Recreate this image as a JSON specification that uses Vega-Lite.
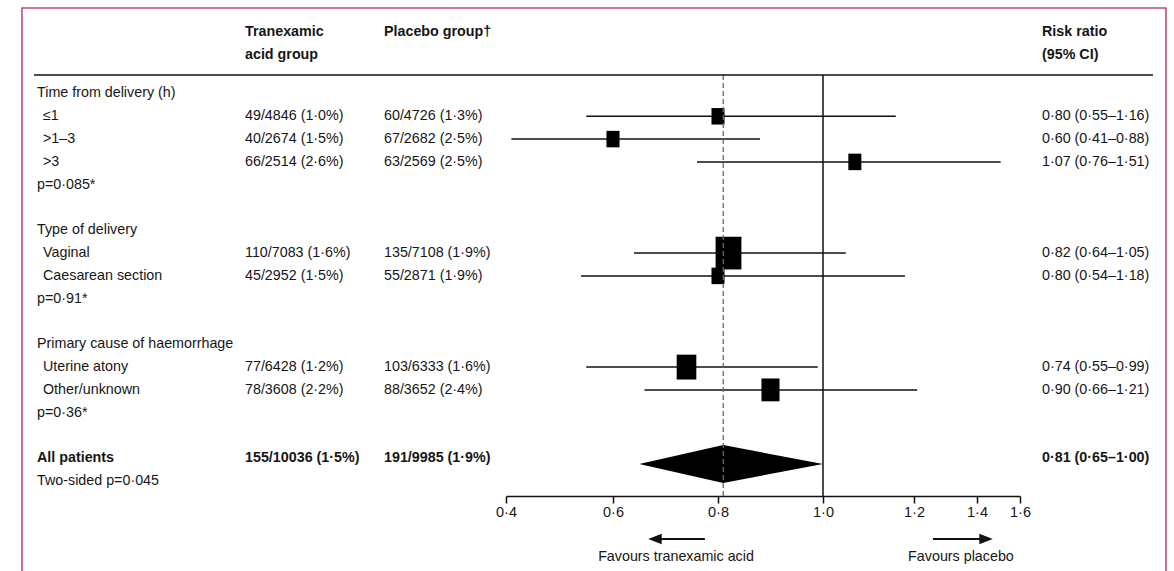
{
  "$schema": "https://vega.github.io/schema/vega-lite/v6.json",
  "width": 1144,
  "height": 566,
  "autosize": {"type": "none"},
  "padding": {"left": 22, "top": 8, "right": 8, "bottom": -3},
  "background": "white",
  "config": {
    "view": {"stroke": "#c9486f", "strokeWidth": 1.6},
    "text": {"font": "Liberation Sans", "fontSize": 14.3, "color": "#161616"}
  },
  "datasets": {
    "forest": [
      {"row": 1, "subgroup": "≤1", "est": 0.80, "lo": 0.55, "hi": 1.16, "events": 109},
      {"row": 2, "subgroup": ">1–3", "est": 0.60, "lo": 0.41, "hi": 0.88, "events": 107},
      {"row": 3, "subgroup": ">3", "est": 1.07, "lo": 0.76, "hi": 1.51, "events": 129},
      {"row": 7, "subgroup": "Vaginal", "est": 0.82, "lo": 0.64, "hi": 1.05, "events": 245},
      {"row": 8, "subgroup": "Caesarean section", "est": 0.80, "lo": 0.54, "hi": 1.18, "events": 100},
      {"row": 12, "subgroup": "Uterine atony", "est": 0.74, "lo": 0.55, "hi": 0.99, "events": 180},
      {"row": 13, "subgroup": "Other/unknown", "est": 0.90, "lo": 0.66, "hi": 1.21, "events": 166}
    ],
    "diamond": [
      {"ratio": 0.65, "top": 16.25, "bottom": 16.25},
      {"ratio": 0.81, "top": 15.42, "bottom": 17.08},
      {"ratio": 1.00, "top": 16.25, "bottom": 16.25}
    ],
    "refs": [
      {"line": "no effect", "ratio": 1.0},
      {"line": "overall", "ratio": 0.81}
    ],
    "arrows": [
      {"direction": "left", "label": "Favours tranexamic acid", "tail": 0.775, "head": 0.68, "mid": 0.72},
      {"direction": "right", "label": "Favours placebo", "tail": 1.26, "head": 1.442, "mid": 1.349}
    ],
    "cells": [
      {"row": -2.70, "col": 3, "kind": "header", "text": "Tranexamic"},
      {"row": -1.69, "col": 3, "kind": "header", "text": "acid group"},
      {"row": -2.70, "col": 4, "kind": "header", "text": "Placebo group†"},
      {"row": -2.70, "col": 5, "kind": "header", "text": "Risk ratio"},
      {"row": -1.69, "col": 5, "kind": "header", "text": "(95% CI)"},
      {"row": 0, "col": 1, "kind": "group", "text": "Time from delivery (h)"},
      {"row": 1, "col": 2, "kind": "item", "text": "≤1"},
      {"row": 1, "col": 3, "kind": "value", "text": "49/4846 (1·0%)"},
      {"row": 1, "col": 4, "kind": "value", "text": "60/4726 (1·3%)"},
      {"row": 1, "col": 5, "kind": "value", "text": "0·80 (0·55–1·16)"},
      {"row": 2, "col": 2, "kind": "item", "text": ">1–3"},
      {"row": 2, "col": 3, "kind": "value", "text": "40/2674 (1·5%)"},
      {"row": 2, "col": 4, "kind": "value", "text": "67/2682 (2·5%)"},
      {"row": 2, "col": 5, "kind": "value", "text": "0·60 (0·41–0·88)"},
      {"row": 3, "col": 2, "kind": "item", "text": ">3"},
      {"row": 3, "col": 3, "kind": "value", "text": "66/2514 (2·6%)"},
      {"row": 3, "col": 4, "kind": "value", "text": "63/2569 (2·5%)"},
      {"row": 3, "col": 5, "kind": "value", "text": "1·07 (0·76–1·51)"},
      {"row": 4, "col": 1, "kind": "pvalue", "text": "p=0·085*"},
      {"row": 6, "col": 1, "kind": "group", "text": "Type of delivery"},
      {"row": 7, "col": 2, "kind": "item", "text": "Vaginal"},
      {"row": 7, "col": 3, "kind": "value", "text": "110/7083 (1·6%)"},
      {"row": 7, "col": 4, "kind": "value", "text": "135/7108 (1·9%)"},
      {"row": 7, "col": 5, "kind": "value", "text": "0·82 (0·64–1·05)"},
      {"row": 8, "col": 2, "kind": "item", "text": "Caesarean section"},
      {"row": 8, "col": 3, "kind": "value", "text": "45/2952 (1·5%)"},
      {"row": 8, "col": 4, "kind": "value", "text": "55/2871 (1·9%)"},
      {"row": 8, "col": 5, "kind": "value", "text": "0·80 (0·54–1·18)"},
      {"row": 9, "col": 1, "kind": "pvalue", "text": "p=0·91*"},
      {"row": 11, "col": 1, "kind": "group", "text": "Primary cause of haemorrhage"},
      {"row": 12, "col": 2, "kind": "item", "text": "Uterine atony"},
      {"row": 12, "col": 3, "kind": "value", "text": "77/6428 (1·2%)"},
      {"row": 12, "col": 4, "kind": "value", "text": "103/6333 (1·6%)"},
      {"row": 12, "col": 5, "kind": "value", "text": "0·74 (0·55–0·99)"},
      {"row": 13, "col": 2, "kind": "item", "text": "Other/unknown"},
      {"row": 13, "col": 3, "kind": "value", "text": "78/3608 (2·2%)"},
      {"row": 13, "col": 4, "kind": "value", "text": "88/3652 (2·4%)"},
      {"row": 13, "col": 5, "kind": "value", "text": "0·90 (0·66–1·21)"},
      {"row": 14, "col": 1, "kind": "pvalue", "text": "p=0·36*"},
      {"row": 16, "col": 1, "kind": "total", "text": "All patients"},
      {"row": 16, "col": 3, "kind": "total", "text": "155/10036 (1·5%)"},
      {"row": 16, "col": 4, "kind": "total", "text": "191/9985 (1·9%)"},
      {"row": 16, "col": 5, "kind": "total", "text": "0·81 (0·65–1·00)"},
      {"row": 17, "col": 1, "kind": "pvalue", "text": "Two-sided p=0·045"}
    ]
  },
  "layer": [
    {
      "layer": [
        {
          "data": {"name": "forest"},
          "mark": {"type": "rule", "color": "#111111", "strokeWidth": 1.5},
          "encoding": {
            "x": {
              "field": "lo", "type": "quantitative",
              "scale": {"domain": [0.4, 0.6, 0.8, 1.0, 1.2, 1.4, 1.6], "range": [484, 591, 696, 801, 892, 955, 998], "nice": false, "zero": false},
              "axis": {
                "orient": "bottom", "values": [0.4, 0.6, 0.8, 1.0, 1.2, 1.4, 1.6],
                "labelExpr": "replace(format(datum.value, '.1f'), '.', '·')",
                "title": null, "grid": false,
                "domainColor": "#111111", "domainWidth": 1.5,
                "tickColor": "#111111", "tickWidth": 1.5, "tickSize": 7,
                "labelFont": "Liberation Sans", "labelFontSize": 14.5, "labelColor": "#161616",
                "labelPadding": 2, "labelFlush": false, "labelOverlap": false,
                "offset": -78
              }
            },
            "x2": {"field": "hi"},
            "y": {"field": "row", "type": "quantitative", "scale": {"domain": [-3.75, 21.075], "reverse": true, "nice": false, "zero": false}, "axis": null}
          }
        },
        {
          "data": {"name": "forest"},
          "mark": {"type": "point", "filled": true, "color": "#000000", "opacity": 1, "shape": "M-0.79,-1H0.79V1H-0.79Z"},
          "encoding": {
            "x": {"field": "est", "type": "quantitative"},
            "y": {"field": "row", "type": "quantitative"},
            "size": {"field": "events", "type": "quantitative", "scale": {"type": "linear", "domain": [130, 245], "range": [272, 1069], "clamp": true, "zero": false}, "legend": null}
          }
        },
        {
          "data": {"name": "diamond"},
          "mark": {"type": "area", "color": "#000000", "opacity": 1},
          "encoding": {
            "x": {"field": "ratio", "type": "quantitative"},
            "y": {"field": "top", "type": "quantitative"},
            "y2": {"field": "bottom"}
          }
        },
        {
          "data": {"name": "refs"},
          "transform": [{"filter": "datum.line === 'no effect'"}],
          "mark": {"type": "rule", "color": "#111111", "strokeWidth": 1.5},
          "encoding": {
            "x": {"field": "ratio", "type": "quantitative"},
            "y": {"datum": -0.81, "type": "quantitative"},
            "y2": {"datum": 17.65}
          }
        },
        {
          "data": {"name": "refs"},
          "transform": [{"filter": "datum.line === 'overall'"}],
          "mark": {"type": "rule", "color": "#4d7184", "strokeWidth": 1.3, "strokeDash": [5, 3]},
          "encoding": {
            "x": {"field": "ratio", "type": "quantitative"},
            "y": {"datum": -0.81, "type": "quantitative"},
            "y2": {"datum": 17.65}
          }
        },
        {
          "data": {"name": "arrows"},
          "mark": {"type": "rule", "color": "#111111", "strokeWidth": 2},
          "encoding": {
            "x": {"field": "tail", "type": "quantitative"},
            "x2": {"field": "head"},
            "y": {"datum": 19.54, "type": "quantitative"}
          }
        },
        {
          "data": {"name": "arrows"},
          "mark": {"type": "point", "filled": true, "color": "#111111", "opacity": 1, "size": 180},
          "encoding": {
            "x": {"field": "head", "type": "quantitative"},
            "y": {"datum": 19.54, "type": "quantitative"},
            "shape": {"field": "direction", "type": "nominal", "scale": {"domain": ["left", "right"], "range": ["M1,-0.8L-1,0L1,0.8Z", "M-1,-0.8L1,0L-1,0.8Z"]}, "legend": null}
          }
        },
        {
          "data": {"name": "arrows"},
          "mark": {"type": "text", "align": "center", "baseline": "middle"},
          "encoding": {
            "x": {"field": "mid", "type": "quantitative"},
            "y": {"datum": 20.33, "type": "quantitative"},
            "text": {"field": "label"}
          }
        }
      ]
    },
    {
      "layer": [
        {
          "data": {"name": "cells"},
          "transform": [{"filter": "datum.kind !== 'header' && datum.kind !== 'total'"}],
          "mark": {"type": "text", "align": "left", "baseline": "middle"},
          "encoding": {
            "x": {"field": "col", "type": "quantitative", "scale": {"domain": [0, 1, 2, 3, 4, 5, 6], "range": [12, 15, 21, 223, 362, 1020, 1131], "nice": false, "zero": false}, "axis": {"domain": false, "ticks": false, "labels": false, "grid": false, "title": null, "orient": "top"}},
            "y": {"field": "row", "type": "quantitative"},
            "text": {"field": "text"}
          }
        },
        {
          "data": {"name": "cells"},
          "transform": [{"filter": "datum.kind === 'header' || datum.kind === 'total'"}],
          "mark": {"type": "text", "align": "left", "baseline": "middle", "fontWeight": "bold"},
          "encoding": {
            "x": {"field": "col", "type": "quantitative"},
            "y": {"field": "row", "type": "quantitative"},
            "text": {"field": "text"}
          }
        },
        {
          "data": {"values": [{"line": "header rule"}]},
          "mark": {"type": "rule", "color": "#111111", "strokeWidth": 1.6},
          "encoding": {
            "x": {"datum": 0, "type": "quantitative"},
            "x2": {"datum": 6},
            "y": {"datum": -0.81, "type": "quantitative"}
          }
        }
      ]
    }
  ],
  "resolve": {"scale": {"x": "independent"}}
}
